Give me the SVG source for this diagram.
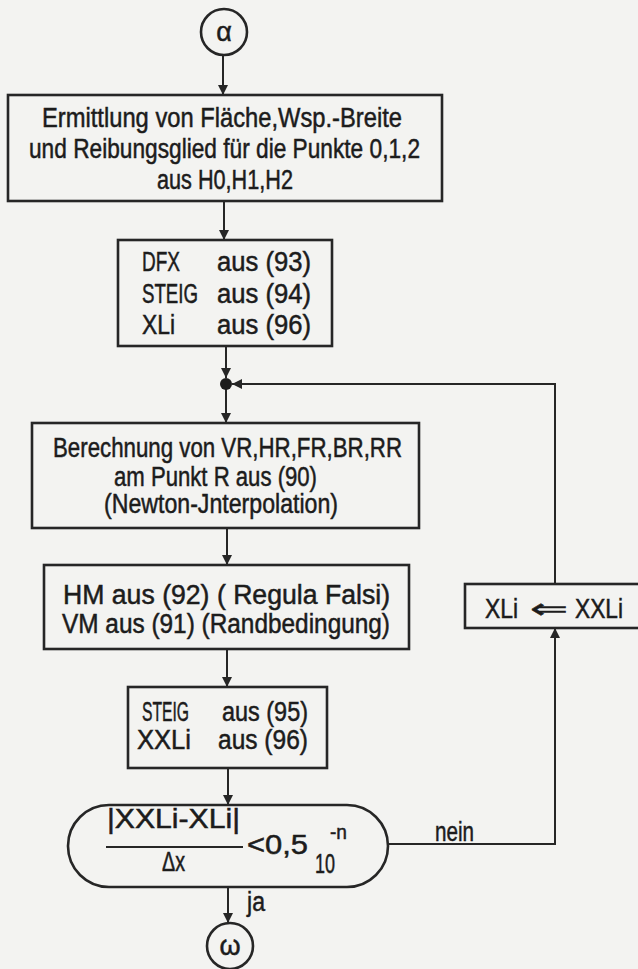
<svg xmlns="http://www.w3.org/2000/svg" width="638" height="969" viewBox="0 0 638 969">
<style>
.bg{fill:#f3f3f1}
.box{fill:none;stroke:#262626;stroke-width:2.6}
.ln{fill:none;stroke:#262626;stroke-width:2}
.t{font-family:"Liberation Sans","DejaVu Sans",sans-serif;font-size:27px;fill:#1c1c1c;stroke:#1c1c1c;stroke-width:0.5}
.s{font-size:20px}
</style>
<defs>
<marker id="ah" viewBox="0 0 10 10" refX="10" refY="5" markerWidth="10" markerHeight="10" markerUnits="userSpaceOnUse" orient="auto">
<path d="M0,0 L10,5 L0,10 Z" fill="#262626"/>
</marker>
</defs>
<rect class="bg" x="0" y="0" width="638" height="969"/>

<g id="connectors">
<path class="ln" d="M223,55 V95" marker-end="url(#ah)"/>
<path class="ln" d="M224,200 V240" marker-end="url(#ah)"/>
<path class="ln" d="M226,346 V378" marker-end="url(#ah)"/>
<path class="ln" d="M226,384 V423" marker-end="url(#ah)"/>
<path class="ln" d="M555,584 V384 H232" marker-end="url(#ah)"/>
<path class="ln" d="M227,528 V565" marker-end="url(#ah)"/>
<path class="ln" d="M227,649 V687" marker-end="url(#ah)"/>
<path class="ln" d="M228,768 V805" marker-end="url(#ah)"/>
<path class="ln" d="M228,887 V923" marker-end="url(#ah)"/>
<path class="ln" d="M388,844 H555 V628" marker-end="url(#ah)"/>
<circle id="join" cx="226" cy="384" r="6" fill="#1c1c1c"/>
<text class="t" x="435" y="841" textLength="39" lengthAdjust="spacingAndGlyphs">nein</text>
<text class="t" x="247" y="911" textLength="18" lengthAdjust="spacingAndGlyphs">ja</text>
</g>

<g id="alpha">
<circle class="box" cx="224" cy="32" r="23" stroke-width="2.2"/>
<text class="t" x="224" y="41" text-anchor="middle" font-size="28">α</text>
</g>

<g id="box1">
<rect class="box" x="8" y="95" width="434" height="106"/>
<text class="t" x="42" y="127" textLength="360" lengthAdjust="spacingAndGlyphs">Ermittlung von Fläche,Wsp.-Breite</text>
<text class="t" x="29" y="158" textLength="391" lengthAdjust="spacingAndGlyphs">und Reibungsglied für die Punkte 0,1,2</text>
<text class="t" x="157" y="189" textLength="136" lengthAdjust="spacingAndGlyphs">aus H0,H1,H2</text>
</g>

<g id="box2">
<rect class="box" x="118" y="240" width="214" height="106"/>
<text class="t" x="142" y="271" textLength="38" lengthAdjust="spacingAndGlyphs">DFX</text>
<text class="t" x="217" y="271" textLength="94" lengthAdjust="spacingAndGlyphs">aus (93)</text>
<text class="t" x="142" y="303" textLength="56" lengthAdjust="spacingAndGlyphs">STEIG</text>
<text class="t" x="217" y="303" textLength="94" lengthAdjust="spacingAndGlyphs">aus (94)</text>
<text class="t" x="142" y="334" textLength="33" lengthAdjust="spacingAndGlyphs">XLi</text>
<text class="t" x="217" y="334" textLength="94" lengthAdjust="spacingAndGlyphs">aus (96)</text>
</g>

<g id="box3">
<rect class="box" x="32" y="423" width="387" height="105"/>
<text class="t" x="53" y="457" textLength="349" lengthAdjust="spacingAndGlyphs">Berechnung von VR,HR,FR,BR,RR</text>
<text class="t" x="114" y="486" textLength="203" lengthAdjust="spacingAndGlyphs">am Punkt R aus (90)</text>
<text class="t" x="104" y="513" textLength="234" lengthAdjust="spacingAndGlyphs">(Newton-Jnterpolation)</text>
</g>

<g id="box4">
<rect class="box" x="44" y="565" width="365" height="84"/>
<text class="t" x="63" y="604" textLength="327" lengthAdjust="spacingAndGlyphs">HM aus (92) ( Regula  Falsi)</text>
<text class="t" x="62" y="633" textLength="328" lengthAdjust="spacingAndGlyphs">VM aus (91) (Randbedingung)</text>
</g>

<g id="box5">
<rect class="box" x="128" y="687" width="199" height="81"/>
<text class="t" x="142" y="721" textLength="47" lengthAdjust="spacingAndGlyphs">STEIG</text>
<text class="t" x="222" y="721" textLength="86" lengthAdjust="spacingAndGlyphs">aus (95)</text>
<text class="t" x="137" y="749" textLength="54" lengthAdjust="spacingAndGlyphs">XXLi</text>
<text class="t" x="218" y="749" textLength="90" lengthAdjust="spacingAndGlyphs">aus (96)</text>
</g>

<g id="assign">
<rect class="box" x="465" y="584" width="180" height="44"/>
<text class="t" x="485" y="618" textLength="33" lengthAdjust="spacingAndGlyphs">XLi</text>
<text class="t" x="530" y="618" textLength="38" lengthAdjust="spacingAndGlyphs">⇐</text>
<text class="t" x="575" y="618" textLength="48" lengthAdjust="spacingAndGlyphs">XXLi</text>
</g>

<g id="decision">
<rect class="box" x="68" y="805" width="320" height="82" rx="41" ry="41"/>
<text class="t" x="107" y="828" textLength="133" lengthAdjust="spacingAndGlyphs">|XXLi-XLi|</text>
<line class="ln" x1="106" y1="847" x2="243" y2="847"/>
<text class="t" x="162" y="871" textLength="23" lengthAdjust="spacingAndGlyphs">Δx</text>
<text class="t" x="247" y="854" textLength="61" lengthAdjust="spacingAndGlyphs">&lt;0,5</text>
<text class="t" x="315" y="873" textLength="20" lengthAdjust="spacingAndGlyphs">10</text>
<text class="t s" x="330" y="839" textLength="17" lengthAdjust="spacingAndGlyphs">-n</text>
</g>

<g id="omega">
<circle class="box" cx="230" cy="946" r="23" stroke-width="2.2"/>
<text class="t" x="230" y="955" text-anchor="middle" font-size="28">ω</text>
</g>
</svg>
